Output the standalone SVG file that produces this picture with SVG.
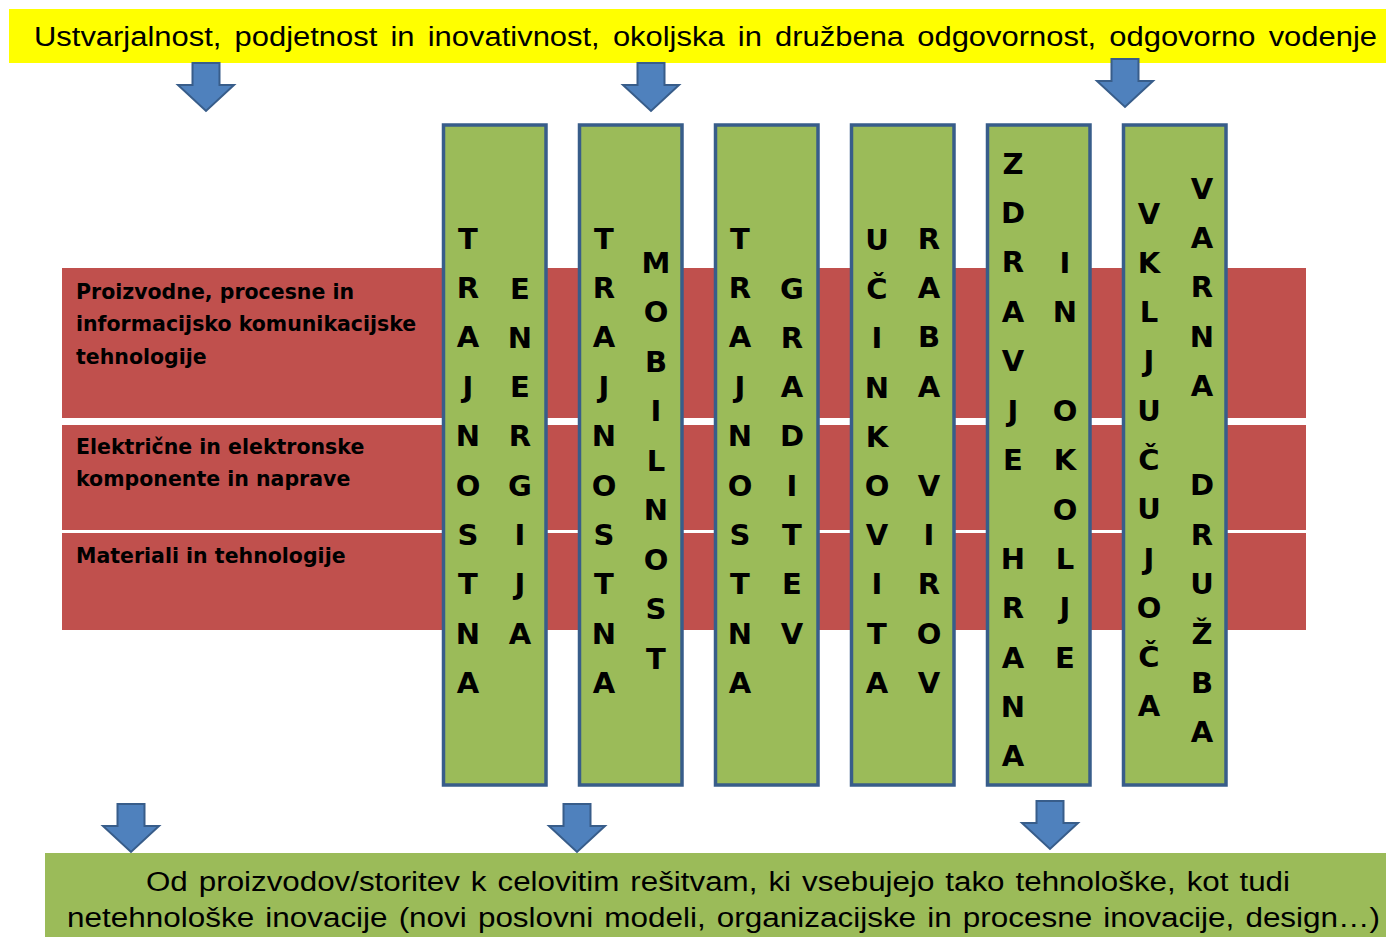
<svg xmlns="http://www.w3.org/2000/svg" width="1386" height="937" viewBox="0 0 1386 937">
<style>
.band{fill:#C0504D}
.col{fill:#9BBB59;stroke:#385D8A;stroke-width:3.5}
.arrow{fill:#4F81BD;stroke:#385D8A;stroke-width:2;stroke-linejoin:miter}
.v{font-family:"DejaVu Sans",Verdana,sans-serif;font-weight:bold;font-size:29px;fill:#000;text-anchor:middle}
.lbl{font-family:"DejaVu Sans",Verdana,sans-serif;font-weight:bold;font-size:20.5px;fill:#000}
.big{font-family:"Liberation Sans",Arial,sans-serif;font-size:27px;fill:#000}
.ws4{word-spacing:4px}
.ws2{word-spacing:2px}
</style>
<defs>
<path id="arr" d="M-13.5,0 H13.5 V22 H28 L0,48 L-28,22 H-13.5 Z"/>
</defs>
<rect width="1386" height="937" fill="#fff"/>

<g id="top-banner">
<rect x="9" y="9" width="1377" height="54" fill="#FFFF00"/>
<text class="big ws4" x="34" y="46" textLength="1343" lengthAdjust="spacingAndGlyphs">Ustvarjalnost, podjetnost in inovativnost, okoljska in družbena odgovornost, odgovorno vodenje</text>
</g>

<g id="bands">
<g id="band1"><rect class="band" x="62" y="268" width="1244" height="150"/>
<text class="lbl" x="76" y="298.5">Proizvodne, procesne in</text>
<text class="lbl" x="76" y="331">informacijsko komunikacijske</text>
<text class="lbl" x="76" y="363.5">tehnologije</text></g>
<g id="band2"><rect class="band" x="62" y="425" width="1244" height="105"/>
<text class="lbl" x="76" y="453.5">Električne in elektronske</text>
<text class="lbl" x="76" y="486">komponente in naprave</text></g>
<g id="band3"><rect class="band" x="62" y="533" width="1244" height="97"/>
<text class="lbl" x="76" y="562.5">Materiali in tehnologije</text></g>
</g>

<g id="col1">
<rect class="col" x="443.5" y="125" width="102.5" height="660"/>
<text class="v" y="248.5"><tspan x="468">T</tspan><tspan x="468" dy="49.4">R</tspan><tspan x="468" dy="49.4">A</tspan><tspan x="468" dy="49.4">J</tspan><tspan x="468" dy="49.4">N</tspan><tspan x="468" dy="49.4">O</tspan><tspan x="468" dy="49.4">S</tspan><tspan x="468" dy="49.4">T</tspan><tspan x="468" dy="49.4">N</tspan><tspan x="468" dy="49.4">A</tspan></text>
<text class="v" y="298.5"><tspan x="520">E</tspan><tspan x="520" dy="49.3">N</tspan><tspan x="520" dy="49.3">E</tspan><tspan x="520" dy="49.3">R</tspan><tspan x="520" dy="49.3">G</tspan><tspan x="520" dy="49.3">I</tspan><tspan x="520" dy="49.3">J</tspan><tspan x="520" dy="49.3">A</tspan></text>
</g>

<g id="col2">
<rect class="col" x="579.5" y="125" width="102.5" height="660"/>
<text class="v" y="248.5"><tspan x="604">T</tspan><tspan x="604" dy="49.4">R</tspan><tspan x="604" dy="49.4">A</tspan><tspan x="604" dy="49.4">J</tspan><tspan x="604" dy="49.4">N</tspan><tspan x="604" dy="49.4">O</tspan><tspan x="604" dy="49.4">S</tspan><tspan x="604" dy="49.4">T</tspan><tspan x="604" dy="49.4">N</tspan><tspan x="604" dy="49.4">A</tspan></text>
<text class="v" y="272.5"><tspan x="656">M</tspan><tspan x="656" dy="49.5">O</tspan><tspan x="656" dy="49.5">B</tspan><tspan x="656" dy="49.5">I</tspan><tspan x="656" dy="49.5">L</tspan><tspan x="656" dy="49.5">N</tspan><tspan x="656" dy="49.5">O</tspan><tspan x="656" dy="49.5">S</tspan><tspan x="656" dy="49.5">T</tspan></text>
</g>

<g id="col3">
<rect class="col" x="715.5" y="125" width="102.5" height="660"/>
<text class="v" y="248.5"><tspan x="740">T</tspan><tspan x="740" dy="49.4">R</tspan><tspan x="740" dy="49.4">A</tspan><tspan x="740" dy="49.4">J</tspan><tspan x="740" dy="49.4">N</tspan><tspan x="740" dy="49.4">O</tspan><tspan x="740" dy="49.4">S</tspan><tspan x="740" dy="49.4">T</tspan><tspan x="740" dy="49.4">N</tspan><tspan x="740" dy="49.4">A</tspan></text>
<text class="v" y="298.5"><tspan x="792">G</tspan><tspan x="792" dy="49.3">R</tspan><tspan x="792" dy="49.3">A</tspan><tspan x="792" dy="49.3">D</tspan><tspan x="792" dy="49.3">I</tspan><tspan x="792" dy="49.3">T</tspan><tspan x="792" dy="49.3">E</tspan><tspan x="792" dy="49.3">V</tspan></text>
</g>

<g id="col4">
<rect class="col" x="851.5" y="125" width="102.5" height="660"/>
<text class="v" y="250"><tspan x="877">U</tspan><tspan x="877" dy="49.2">Č</tspan><tspan x="877" dy="49.2">I</tspan><tspan x="877" dy="49.2">N</tspan><tspan x="877" dy="49.2">K</tspan><tspan x="877" dy="49.2">O</tspan><tspan x="877" dy="49.2">V</tspan><tspan x="877" dy="49.2">I</tspan><tspan x="877" dy="49.2">T</tspan><tspan x="877" dy="49.2">A</tspan></text>
<text class="v" y="248.5"><tspan x="929">R</tspan><tspan x="929" dy="49.4">A</tspan><tspan x="929" dy="49.4">B</tspan><tspan x="929" dy="49.4">A</tspan><tspan x="929" dy="98.8">V</tspan><tspan x="929" dy="49.4">I</tspan><tspan x="929" dy="49.4">R</tspan><tspan x="929" dy="49.4">O</tspan><tspan x="929" dy="49.4">V</tspan></text>
</g>

<g id="col5">
<rect class="col" x="987.5" y="125" width="102.5" height="660"/>
<text class="v" y="173.5"><tspan x="1013">Z</tspan><tspan x="1013" dy="49.4">D</tspan><tspan x="1013" dy="49.4">R</tspan><tspan x="1013" dy="49.4">A</tspan><tspan x="1013" dy="49.4">V</tspan><tspan x="1013" dy="49.4">J</tspan><tspan x="1013" dy="49.4">E</tspan><tspan x="1013" dy="98.8">H</tspan><tspan x="1013" dy="49.4">R</tspan><tspan x="1013" dy="49.4">A</tspan><tspan x="1013" dy="49.4">N</tspan><tspan x="1013" dy="49.4">A</tspan></text>
<text class="v" y="272.5"><tspan x="1065">I</tspan><tspan x="1065" dy="49.4">N</tspan><tspan x="1065" dy="98.8">O</tspan><tspan x="1065" dy="49.4">K</tspan><tspan x="1065" dy="49.4">O</tspan><tspan x="1065" dy="49.4">L</tspan><tspan x="1065" dy="49.4">J</tspan><tspan x="1065" dy="49.4">E</tspan></text>
</g>

<g id="col6">
<rect class="col" x="1123.5" y="125" width="102.5" height="660"/>
<text class="v" y="223.5"><tspan x="1149">V</tspan><tspan x="1149" dy="49.3">K</tspan><tspan x="1149" dy="49.3">L</tspan><tspan x="1149" dy="49.3">J</tspan><tspan x="1149" dy="49.3">U</tspan><tspan x="1149" dy="49.3">Č</tspan><tspan x="1149" dy="49.3">U</tspan><tspan x="1149" dy="49.3">J</tspan><tspan x="1149" dy="49.3">O</tspan><tspan x="1149" dy="49.3">Č</tspan><tspan x="1149" dy="49.3">A</tspan></text>
<text class="v" y="198.5"><tspan x="1202">V</tspan><tspan x="1202" dy="49.45">A</tspan><tspan x="1202" dy="49.45">R</tspan><tspan x="1202" dy="49.45">N</tspan><tspan x="1202" dy="49.45">A</tspan><tspan x="1202" dy="98.9">D</tspan><tspan x="1202" dy="49.45">R</tspan><tspan x="1202" dy="49.45">U</tspan><tspan x="1202" dy="49.45">Ž</tspan><tspan x="1202" dy="49.45">B</tspan><tspan x="1202" dy="49.45">A</tspan></text>
</g>

<g id="bottom-banner">
<rect x="45" y="853" width="1341" height="84" fill="#9BBB59"/>
<text class="big ws2" x="146" y="891" textLength="1144" lengthAdjust="spacingAndGlyphs">Od proizvodov/storitev k celovitim rešitvam, ki vsebujejo tako tehnološke, kot tudi</text>
<text class="big ws2" x="67" y="927" textLength="1313" lengthAdjust="spacingAndGlyphs">netehnološke inovacije (novi poslovni modeli, organizacijske in procesne inovacije, design…)</text>
</g>

<g id="connectors">
<use href="#arr" class="arrow" transform="translate(206,63)"/>
<use href="#arr" class="arrow" transform="translate(651,63)"/>
<use href="#arr" class="arrow" transform="translate(1125,59)"/>
<use href="#arr" class="arrow" transform="translate(131,804)"/>
<use href="#arr" class="arrow" transform="translate(577,804)"/>
<use href="#arr" class="arrow" transform="translate(1050,801)"/>
</g>
</svg>
